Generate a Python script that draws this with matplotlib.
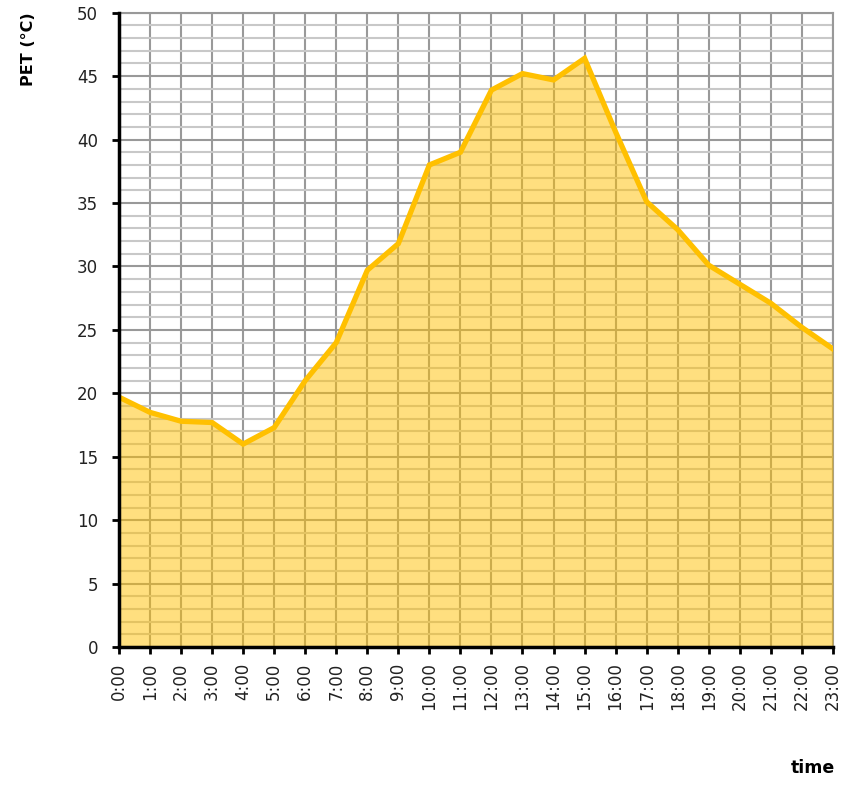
import matplotlib.pyplot as plt
import numpy as np
from matplotlib.ticker import MultipleLocator

hours = [f"{h}:00" for h in range(24)]
pet = [19.7, 18.5, 17.8, 17.7, 16.0, 17.3, 21.0, 24.0, 29.7, 31.8, 38.0, 39.0,
       43.9, 45.2, 44.7, 46.4, 40.6, 35.1, 32.9, 30.1, 28.6, 27.1, 25.2, 23.5]

fig = plt.figure(figsize=(8.56, 7.93), dpi=100)
ax = fig.add_axes([0.139, 0.184, 0.834, 0.8])

x = np.arange(len(hours))
ax.fill_between(x, pet, 0, color='#FFC000', alpha=0.5, linewidth=0, zorder=3)
ax.plot(x, pet, color='#FFC000', linewidth=3.8, zorder=4, solid_joinstyle='miter')

ax.set_xlim(0, 23)
ax.set_ylim(0, 50)
ax.yaxis.set_major_locator(MultipleLocator(5))
ax.yaxis.set_minor_locator(MultipleLocator(1))
ax.set_xticks(x)
ax.set_xticklabels(hours, rotation=90, fontsize=12, color='#222222')
ax.tick_params(axis='y', labelsize=12, labelcolor='#222222', pad=10)
ax.tick_params(axis='x', pad=6)
ax.tick_params(axis='both', which='major', direction='out', length=5, width=2, color='black')
ax.tick_params(axis='y', which='minor', length=0)

ax.grid(which='major', axis='both', color='#999999', linewidth=1.5, zorder=1)
ax.grid(which='minor', axis='y', color='#c8c8c8', linewidth=1.5, zorder=1)
ax.set_axisbelow(True)

for s in ['top', 'right']:
    ax.spines[s].set_color('#999999')
    ax.spines[s].set_linewidth(1.5)
for s in ['left', 'bottom']:
    ax.spines[s].set_color('black')
    ax.spines[s].set_linewidth(2.5)
    ax.spines[s].set_zorder(5)

fig.text(0.033, 0.985, 'PET (°C)', rotation=90, ha='center', va='top',
         fontsize=11.5, fontweight='bold')
fig.text(0.976, 0.031, 'time', ha='right', va='center', fontsize=12.5, fontweight='bold')

fig.savefig('out.png', dpi=100)
